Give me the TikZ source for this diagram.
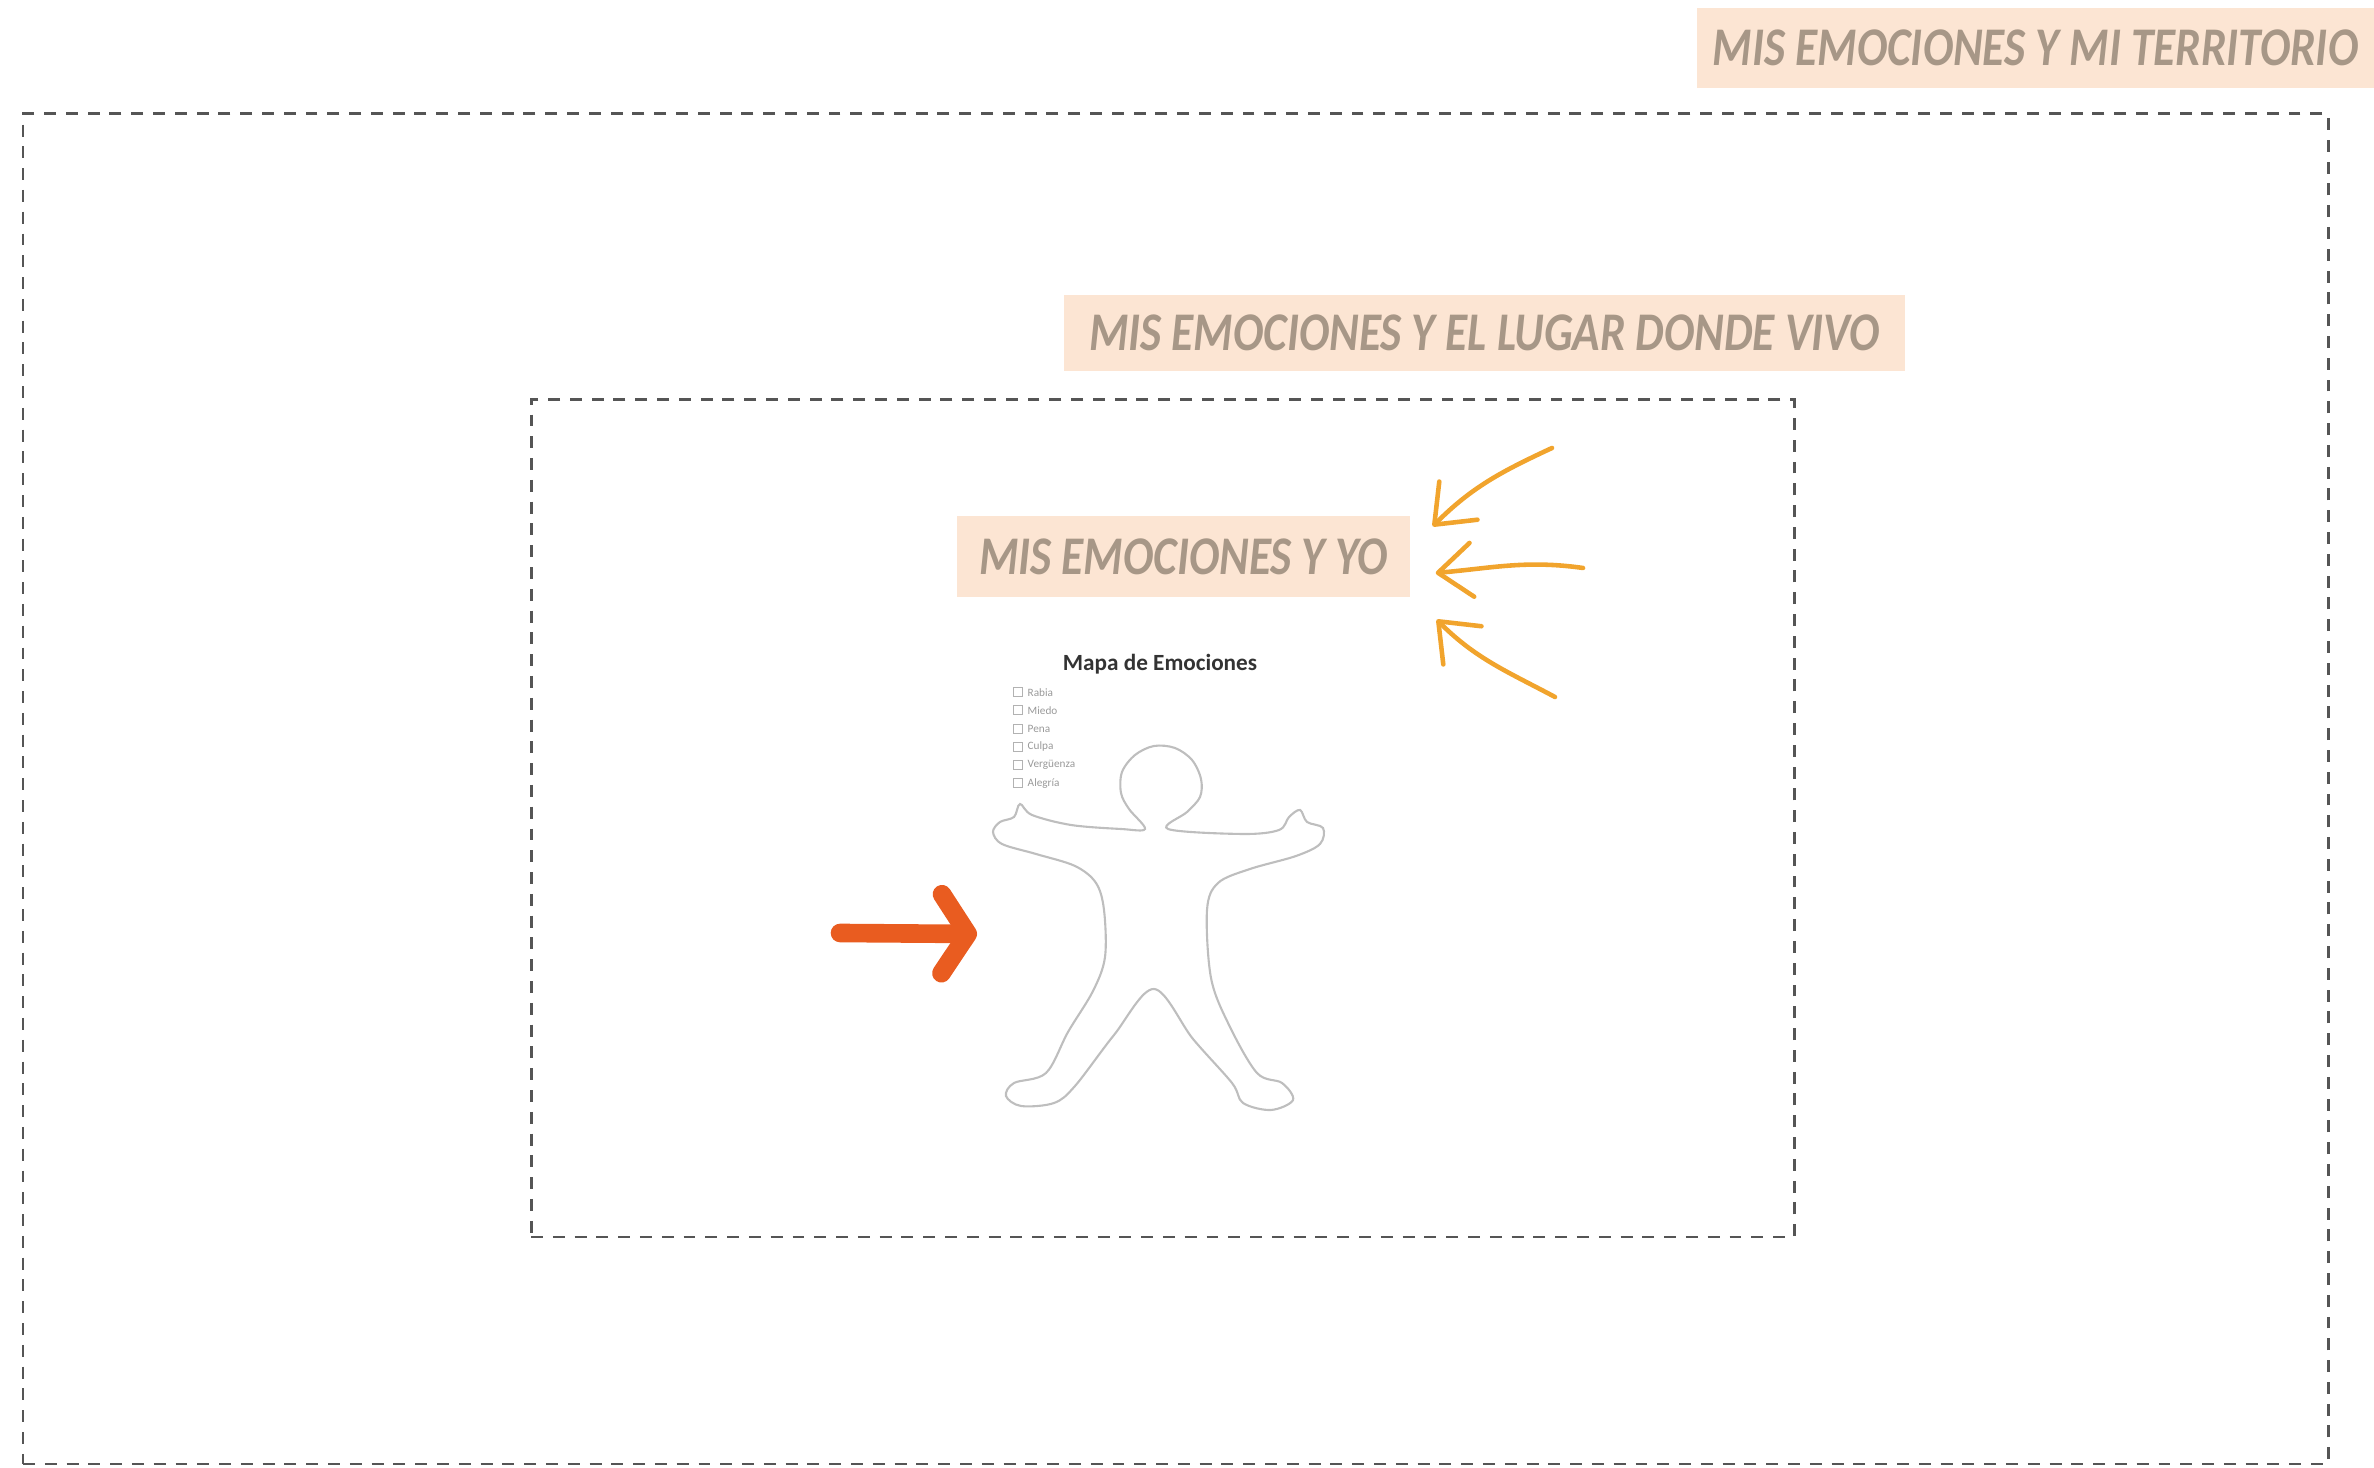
\documentclass[tikz,border=0pt]{standalone}
\usepackage{fontspec}
\setmainfont{Carlito}
\newfontfamily\rotulofont[FakeStretch=0.83]{Carlito}
\usetikzlibrary{arrows.meta,positioning}
\definecolor{fondopiel}{RGB}{252,229,211}
\definecolor{textopiel}{RGB}{167,151,135}
\definecolor{naranjaclaro}{RGB}{241,164,45}
\definecolor{naranjafuerte}{RGB}{233,92,32}
\definecolor{trazo}{RGB}{85,85,85}
\definecolor{silueta}{RGB}{190,190,190}

\begin{document}
\begin{tikzpicture}[
    every node/.style={align=center},
    marco/.style={rectangle, draw=trazo, line width=0.85pt, dash pattern=on 3.4pt off 2.8pt},
    rotulo/.style={rectangle, fill=fondopiel, text=textopiel, inner sep=0pt, font=\rotulofont\bfseries\itshape\fontsize{15.5pt}{15.5pt}\selectfont},
    flecha/.style={naranjaclaro, line width=1.3pt, line cap=round, -{Straight Barb[length=3.4mm, width=5.4mm, round]}},
    flecha_gruesa/.style={naranjafuerte, line width=5.3pt, line cap=round, -{Straight Barb[length=2.6mm, width=7.9mm, round]}},
    figura/.style={draw=silueta, line width=0.6pt},
    casilla/.style={rectangle, draw=gray!60, line width=0.3pt, minimum size=0.9mm, inner sep=0pt},
    emocion/.style={text=gray!80, inner sep=0pt, font=\fontsize{3.2pt}{4pt}\selectfont}
]

\useasboundingbox (0,0) rectangle (23.74,14.67);

% Frames
\node[marco, minimum width=23.05cm, minimum height=13.5cm] (territorio) at (11.755,6.78) {};
\node[marco, minimum width=12.63cm, minimum height=8.37cm] (lugar) at (11.625,6.485) {};

% Titles
\node[rotulo, minimum width=6.77cm, minimum height=0.8cm] (rot_territorio) at (20.355,14.19) {MIS EMOCIONES Y MI TERRITORIO};
\node[rotulo, minimum width=8.41cm, minimum height=0.76cm] (rot_lugar) at (14.845,11.34) {MIS EMOCIONES Y EL LUGAR DONDE VIVO};
\node[rotulo, minimum width=4.53cm, minimum height=0.81cm] (yo) at (11.835,9.105) {MIS EMOCIONES Y YO};

% Emotion map
\node[font=\bfseries\fontsize{6.6pt}{7pt}\selectfont, text=black!80] (mapa) at (11.60,8.03) {Mapa de Emociones};
\foreach \emo [count=\i] in {Rabia, Miedo, Pena, Culpa, Vergüenza, Alegría} {
  \node[casilla] (casilla\i) at (10.18,7.93-0.182*\i) {};
  \node[emocion, right=0.4mm of casilla\i] {\emo};
}

\draw[figura] plot[smooth cycle, tension=0.55] coordinates {
  (11.45,6.38) (11.21,6.38) (10.71,6.42) (10.32,6.52) (10.20,6.63) (10.14,6.50)
  (10.00,6.45) (9.93,6.35) (10.02,6.23) (10.36,6.13) (10.75,6.01) (10.96,5.84)
  (11.04,5.57) (11.05,5.10) (10.93,4.76) (10.68,4.35) (10.46,3.94) (10.14,3.84)
  (10.06,3.71) (10.21,3.61) (10.54,3.64) (10.75,3.81) (11.14,4.32) (11.54,4.78)
  (11.93,4.28) (12.32,3.84) (12.43,3.64) (12.71,3.57) (12.93,3.67) (12.82,3.84)
  (12.57,3.94) (12.29,4.42) (12.11,4.89) (12.07,5.57) (12.18,5.84) (12.50,5.98)
  (12.96,6.11) (13.20,6.23) (13.23,6.39) (13.07,6.45) (13.00,6.57) (12.89,6.50)
  (12.79,6.37) (12.43,6.33) (11.68,6.38)
  (11.87,6.55) (12.00,6.70) (12.01,6.88) (11.92,7.07) (11.75,7.19) (11.54,7.21)
  (11.35,7.12) (11.22,6.95) (11.21,6.74) (11.29,6.58)};
\coordinate (cuerpo) at (11.04,5.33);

% Arrows
\coordinate (ini_a) at (15.52,10.19);
\coordinate (ini_b) at (15.83,8.99);
\coordinate (ini_c) at (15.55,7.70);
\coordinate (ini_roja) at (8.40,5.34);

\draw[flecha] (ini_a) to[out=205, in=45] ([xshift=2.2mm, yshift=-1.1mm]yo.north east);
\draw[flecha] (ini_b) to[out=172, in=5] ([xshift=2.5mm, yshift=-1.65mm]yo.east);
\draw[flecha] (ini_c) to[out=152, in=-45] ([xshift=2.6mm, yshift=-2.2mm]yo.south east);
\draw[flecha_gruesa] (ini_roja) -- ([xshift=-12.7mm]cuerpo);

\end{tikzpicture}
\end{document}
